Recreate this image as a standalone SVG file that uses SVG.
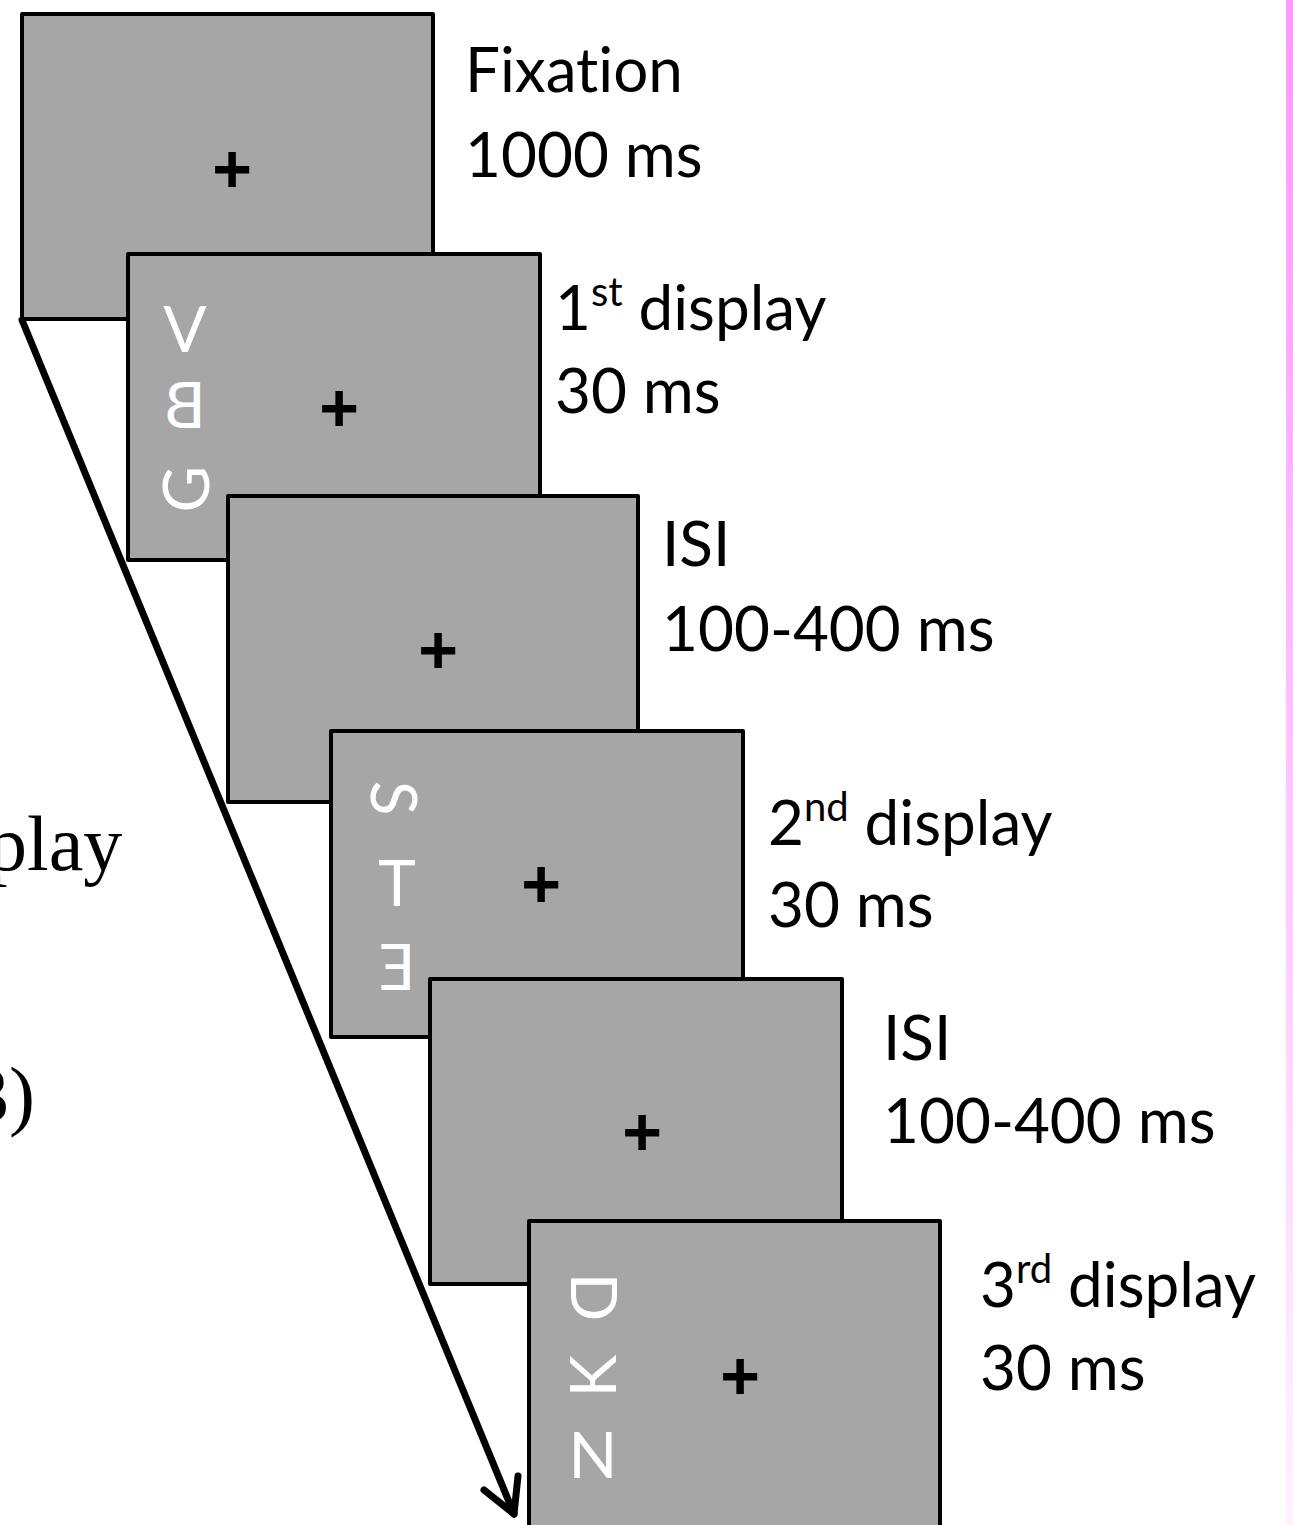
<svg xmlns="http://www.w3.org/2000/svg" width="1293" height="1525" viewBox="0 0 1293 1525">
<defs>
<linearGradient id="pink" x1="0" y1="0" x2="0" y2="1">
<stop offset="0" stop-color="#ff99ff"/>
<stop offset="0.5" stop-color="#ffc4ff"/>
<stop offset="1" stop-color="#fff2ff"/>
</linearGradient>
</defs>
<style>
.scr{fill:#a6a6a6;stroke:#000;stroke-width:4;stroke-linejoin:round}
.lbl{font-family:Lato,"Open Sans",sans-serif;font-size:62px;fill:#000;font-variant-ligatures:none;font-feature-settings:"liga" 0}
.sup{font-size:40px}
.let{font-family:Lato,"Open Sans",sans-serif;font-size:64px;fill:#fff;text-anchor:middle}
.fix{font-family:"Liberation Sans",Arial,sans-serif;font-weight:bold;font-size:68px;fill:#000;text-anchor:middle}
.cut{font-family:"Liberation Serif","Times New Roman",serif;font-size:78px;fill:#000}
.arr{fill:none;stroke:#000;stroke-width:7;stroke-linecap:round;stroke-linejoin:round}
</style>
<rect x="0" y="0" width="1293" height="1525" fill="#fff"/>
<rect x="1286" y="0" width="7" height="1525" fill="url(#pink)"/>
<text class="cut" x="-12" y="870">play</text>
<text class="cut" x="-30" y="1121">3)</text>

<g id="fixation">
<rect class="scr" x="22" y="14" width="411" height="305"/>
<text class="fix" x="232" y="192">+</text>
<text class="lbl" x="465" y="92">Fixation</text>
<text class="lbl" x="465" y="177">1000 ms</text>
</g>
<g id="display1">
<rect class="scr" x="128" y="254" width="412" height="306"/>
<text class="fix" x="339" y="431">+</text>
<text class="let" x="185" y="352">V</text>
<text class="let" transform="translate(185,406) scale(-1,1)" x="0" y="22">B</text>
<text class="let" transform="translate(187,489) rotate(-90)" x="0" y="22">G</text>
<text class="lbl" x="555" y="330">1<tspan class="sup" dy="-24">st</tspan><tspan dy="24"> display</tspan></text>
<text class="lbl" x="555" y="413">30 ms</text>
</g>
<g id="isi1">
<rect class="scr" x="228" y="496" width="410" height="306"/>
<text class="fix" x="438" y="673">+</text>
<text class="lbl" x="662" y="566">ISI</text>
<text class="lbl" x="662" y="651">100-400 ms</text>
</g>
<g id="display2">
<rect class="scr" x="331" y="731" width="412" height="306"/>
<text class="fix" x="541" y="907">+</text>
<text class="let" transform="translate(393,798) rotate(90)" x="0" y="22">S</text>
<text class="let" x="397" y="906">T</text>
<text class="let" transform="translate(397,966) scale(-1,1)" x="0" y="24">E</text>
<text class="lbl" x="768" y="845">2<tspan class="sup" dy="-24">nd</tspan><tspan dy="24"> display</tspan></text>
<text class="lbl" x="768" y="927">30 ms</text>
</g>
<g id="isi2">
<rect class="scr" x="430" y="979" width="412" height="305"/>
<text class="fix" x="642" y="1155">+</text>
<text class="lbl" x="883" y="1060">ISI</text>
<text class="lbl" x="883" y="1143">100-400 ms</text>
</g>
<g id="display3">
<rect class="scr" x="529" y="1221" width="411" height="320"/>
<text class="fix" x="740" y="1399">+</text>
<text class="let" transform="translate(593,1297) rotate(90)" x="0" y="22">D</text>
<text class="let" transform="translate(594,1376) rotate(-90)" x="0" y="22">K</text>
<text class="let" x="593" y="1478">N</text>
<text class="lbl" x="980" y="1307">3<tspan class="sup" dy="-24">rd</tspan><tspan dy="24"> display</tspan></text>
<text class="lbl" x="980" y="1390">30 ms</text>
</g>
<g id="connectors">
<path class="arr" d="M22,320 L514,1514"/>
<path class="arr" d="M484,1490 L514,1514 L518,1476"/>
</g>
</svg>
